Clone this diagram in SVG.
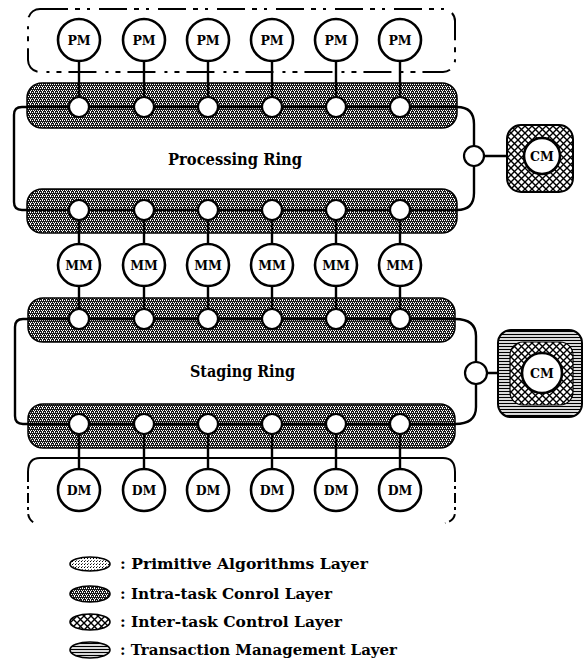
<svg xmlns="http://www.w3.org/2000/svg" width="584" height="671" viewBox="0 0 584 671">
<style>
.big{fill:#fff;stroke:#000;stroke-width:2.6}
.node{fill:#fff;stroke:#000;stroke-width:2.2}
.lbl{font-family:"DejaVu Serif","Liberation Serif",serif;font-weight:bold;font-size:12.5px;text-anchor:middle;fill:#000}
.ring{font-family:"DejaVu Serif","Liberation Serif",serif;font-weight:bold;font-size:16px;fill:#000}
.leg{font-family:"DejaVu Serif","Liberation Serif",serif;font-weight:bold;font-size:14px;fill:#000}
.wire{fill:none;stroke:#000;stroke-width:2.4}
.band{fill:url(#pDark);stroke:#000;stroke-width:1.5}
.brk{fill:none;stroke:#000;stroke-width:2}
</style>
<defs>
<pattern id="pDark" width="4" height="4" patternUnits="userSpaceOnUse">
<rect width="4" height="4" fill="#1a1a1a"/>
<rect x="0" y="0" width="1" height="1" fill="#fff"/>
<rect x="2" y="0" width="1" height="1" fill="#fff"/>
<rect x="1" y="2" width="1" height="1" fill="#fff"/>
<rect x="3" y="2" width="1" height="1" fill="#fff"/>
<rect x="2" y="3" width="1" height="1" fill="#fff"/>
</pattern>
<pattern id="pLight" width="3" height="3" patternUnits="userSpaceOnUse">
<rect width="3" height="3" fill="#fff"/>
<rect x="0" y="0" width="1" height="1" fill="#000"/>
<rect x="1" y="2" width="1" height="1" fill="#666"/>
</pattern>
<pattern id="pCross" width="7" height="7" patternUnits="userSpaceOnUse">
<rect width="7" height="7" fill="#fff"/>
<path d="M0 0L7 7M7 0L0 7" stroke="#000" stroke-width="1.4"/>
</pattern>
<pattern id="pHoriz" width="4" height="3" patternUnits="userSpaceOnUse">
<rect width="4" height="3" fill="#fff"/>
<path d="M0 1.5H4" stroke="#000" stroke-width="1.3"/>
</pattern>
</defs>

<!-- brackets -->
<g id="pm-bracket">
<rect class="brk" x="28" y="9" width="427" height="63" rx="12" stroke-dasharray="28 7 5 7 3 9"/>
</g>
<g id="dm-bracket">
<path class="brk" d="M28 472 Q28 458 40 458 L443 458 Q455 458 455 472"/>
<path class="brk" d="M28 472 L28 512 Q28 520 36 524 M455 472 L455 512 Q455 521 445 523" stroke-dasharray="10 4 3 4"/>
</g>

<!-- bands -->
<g id="proc-top-band"><rect class="band" x="27" y="83" width="430" height="45" rx="15"/></g>
<g id="proc-bot-band"><rect class="band" x="27" y="189" width="430" height="44" rx="15"/></g>
<g id="stag-top-band"><rect class="band" x="28" y="298" width="427" height="44" rx="15"/></g>
<g id="stag-bot-band"><rect class="band" x="28" y="404" width="427" height="44" rx="15"/></g>

<!-- connectors -->
<g id="connectors">
<path class="wire" d="M27 107H457M27 210H457M28 319H455M28 424H455"/>
<path class="wire" d="M27 107H22Q14 107 14 115V202Q14 210 22 210H27"/>
<path class="wire" d="M457 107Q474 107 474 124V193Q474 210 457 210"/>
<path class="wire" d="M28 319H23Q15 319 15 327V416Q15 424 23 424H28"/>
<path class="wire" d="M455 319Q476 319 476 336V407Q476 424 455 424"/>
<path class="wire" d="M484 156H525M487 373H522"/>
<path class="wire" d="M79 61V96M144 61V96M208 61V96M272 61V96M336 61V96M400 61V96"/>
<path class="wire" d="M79 220V244M144 220V244M208 220V244M272 220V244M336 220V244M400 220V244"/>
<path class="wire" d="M79 286V309M144 286V309M208 286V309M272 286V309M336 286V309M400 286V309"/>
<path class="wire" d="M79 434V469M144 434V469M208 434V469M272 434V469M336 434V469M400 434V469"/>
</g>

<!-- ring nodes -->
<g id="proc-top-nodes">
<circle class="node" cx="79" cy="107" r="10"/><circle class="node" cx="144" cy="107" r="10"/><circle class="node" cx="208" cy="107" r="10"/><circle class="node" cx="272" cy="107" r="10"/><circle class="node" cx="336" cy="107" r="10"/><circle class="node" cx="400" cy="107" r="10"/>
</g>
<g id="proc-bot-nodes">
<circle class="node" cx="79" cy="210" r="10"/><circle class="node" cx="144" cy="210" r="10"/><circle class="node" cx="208" cy="210" r="10"/><circle class="node" cx="272" cy="210" r="10"/><circle class="node" cx="336" cy="210" r="10"/><circle class="node" cx="400" cy="210" r="10"/>
</g>
<g id="stag-top-nodes">
<circle class="node" cx="79" cy="319" r="10"/><circle class="node" cx="144" cy="319" r="10"/><circle class="node" cx="208" cy="319" r="10"/><circle class="node" cx="272" cy="319" r="10"/><circle class="node" cx="336" cy="319" r="10"/><circle class="node" cx="400" cy="319" r="10"/>
</g>
<g id="stag-bot-nodes">
<circle class="node" cx="79" cy="424" r="10"/><circle class="node" cx="144" cy="424" r="10"/><circle class="node" cx="208" cy="424" r="10"/><circle class="node" cx="272" cy="424" r="10"/><circle class="node" cx="336" cy="424" r="10"/><circle class="node" cx="400" cy="424" r="10"/>
</g>
<g id="proc-cm-node"><circle class="node" cx="474" cy="156" r="10"/></g>
<g id="stag-cm-node"><circle class="node" cx="476" cy="373" r="11"/></g>

<!-- ring labels -->
<g id="processing-ring"><text class="ring" x="168" y="165" textLength="134" lengthAdjust="spacingAndGlyphs">Processing Ring</text></g>
<g id="staging-ring"><text class="ring" x="190" y="377" textLength="105" lengthAdjust="spacingAndGlyphs">Staging Ring</text></g>

<!-- PM -->
<g id="pm1"><circle class="big" cx="79" cy="40" r="21"/><text class="lbl" x="79" y="44.5">PM</text></g>
<g id="pm2"><circle class="big" cx="144" cy="40" r="21"/><text class="lbl" x="144" y="44.5">PM</text></g>
<g id="pm3"><circle class="big" cx="208" cy="40" r="21"/><text class="lbl" x="208" y="44.5">PM</text></g>
<g id="pm4"><circle class="big" cx="272" cy="40" r="21"/><text class="lbl" x="272" y="44.5">PM</text></g>
<g id="pm5"><circle class="big" cx="336" cy="40" r="21"/><text class="lbl" x="336" y="44.5">PM</text></g>
<g id="pm6"><circle class="big" cx="400" cy="40" r="21"/><text class="lbl" x="400" y="44.5">PM</text></g>

<!-- MM -->
<g id="mm1"><circle class="big" cx="79" cy="265" r="21"/><text class="lbl" x="79" y="269.5">MM</text></g>
<g id="mm2"><circle class="big" cx="144" cy="265" r="21"/><text class="lbl" x="144" y="269.5">MM</text></g>
<g id="mm3"><circle class="big" cx="208" cy="265" r="21"/><text class="lbl" x="208" y="269.5">MM</text></g>
<g id="mm4"><circle class="big" cx="272" cy="265" r="21"/><text class="lbl" x="272" y="269.5">MM</text></g>
<g id="mm5"><circle class="big" cx="336" cy="265" r="21"/><text class="lbl" x="336" y="269.5">MM</text></g>
<g id="mm6"><circle class="big" cx="400" cy="265" r="21"/><text class="lbl" x="400" y="269.5">MM</text></g>

<!-- DM -->
<g id="dm1"><circle class="big" cx="79" cy="490" r="21"/><text class="lbl" x="79" y="494.5">DM</text></g>
<g id="dm2"><circle class="big" cx="144" cy="490" r="21"/><text class="lbl" x="144" y="494.5">DM</text></g>
<g id="dm3"><circle class="big" cx="208" cy="490" r="21"/><text class="lbl" x="208" y="494.5">DM</text></g>
<g id="dm4"><circle class="big" cx="272" cy="490" r="21"/><text class="lbl" x="272" y="494.5">DM</text></g>
<g id="dm5"><circle class="big" cx="336" cy="490" r="21"/><text class="lbl" x="336" y="494.5">DM</text></g>
<g id="dm6"><circle class="big" cx="400" cy="490" r="21"/><text class="lbl" x="400" y="494.5">DM</text></g>

<!-- CM processing -->
<g id="cm-processing">
<rect x="507" y="125" width="66" height="67" rx="14" fill="url(#pCross)" stroke="#000" stroke-width="2"/>
<circle class="big" cx="542" cy="156" r="18"/>
<text class="lbl" x="542" y="160.5">CM</text>
</g>
<!-- CM staging -->
<g id="cm-staging">
<rect x="498" y="330" width="84" height="87" rx="13" fill="url(#pHoriz)" stroke="#000" stroke-width="2"/>
<rect x="510" y="342" width="63" height="63" rx="13" fill="url(#pCross)" stroke="#000" stroke-width="1.2"/>
<circle class="big" cx="542" cy="373" r="20"/>
<text class="lbl" x="542" y="377.5">CM</text>
</g>

<!-- legend -->
<g id="legend-primitive">
<ellipse cx="90" cy="564" rx="20" ry="7" fill="url(#pLight)" stroke="#000" stroke-width="1.6"/>
<text class="leg" x="120" y="569" textLength="248" lengthAdjust="spacingAndGlyphs">: Primitive Algorithms Layer</text>
</g>
<g id="legend-intra">
<ellipse cx="90" cy="594" rx="20" ry="8" fill="url(#pDark)" stroke="#000" stroke-width="1.6"/>
<text class="leg" x="120" y="599" textLength="212" lengthAdjust="spacingAndGlyphs">: Intra-task Conrol Layer</text>
</g>
<g id="legend-inter">
<ellipse cx="90" cy="622" rx="20" ry="8" fill="url(#pCross)" stroke="#000" stroke-width="1.6"/>
<text class="leg" x="120" y="627" textLength="222" lengthAdjust="spacingAndGlyphs">: Inter-task Control Layer</text>
</g>
<g id="legend-transaction">
<ellipse cx="90" cy="650" rx="20" ry="8" fill="url(#pHoriz)" stroke="#000" stroke-width="1.6"/>
<text class="leg" x="120" y="655" textLength="277" lengthAdjust="spacingAndGlyphs">: Transaction Management Layer</text>
</g>
</svg>
